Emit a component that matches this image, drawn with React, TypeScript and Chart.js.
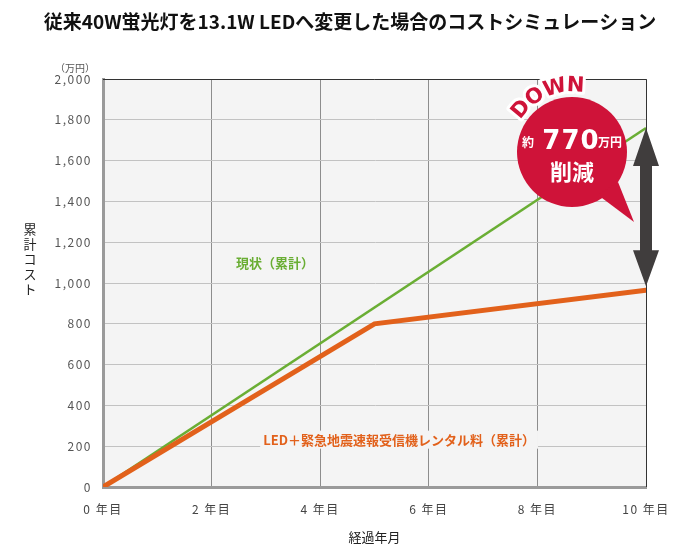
import React, { useEffect, useRef } from "react";
import { Chart, registerables } from "chart.js";

Chart.register(...registerables);

const TITLE = "従来40W蛍光灯を13.1W LEDへ変更した場合のコストシミュレーション";
const greenYears = [0, 10];
const greenCost = [0, 1760];
const ledYears = [0, 5, 10];
const ledCost = [0, 800, 965];
const greenLabel = "現状（累計）";
const ledLabel = "LED＋緊急地震速報受信機レンタル料（累計）";
const yUnit = "（万円）";
const yTitle = "累計コスト";
const xTitle = "経過年月";
const yearSuffix = " 年目";
const savingText = "770";

const FONT = '"Noto Sans CJK JP", "Noto Sans", sans-serif';
const GREEN = "#6aae34";
const ORANGE = "#e2611b";
const RED = "#cf1339";

const extras = {
  id: "extras",
  beforeDraw(chart: any) {
    const { ctx, chartArea: a } = chart;
    ctx.save();
    ctx.fillStyle = "#f4f4f4";
    ctx.fillRect(a.left, a.top, a.right - a.left, a.bottom - a.top);
    ctx.restore();
    (ctx as any).letterSpacing = "1.5px";
  },
  afterDraw(chart: any) {
    const { ctx, chartArea: a, scales } = chart;
    const xs = scales.x, ys = scales.y;
    ctx.save();
    (ctx as any).letterSpacing = "0px";
    // top & right frame
    ctx.strokeStyle = "#333";
    ctx.lineWidth = 1;
    ctx.beginPath();
    ctx.moveTo(a.left, a.top + 0.5);
    ctx.lineTo(a.right + 0.5, a.top + 0.5);
    ctx.lineTo(a.right + 0.5, a.bottom);
    ctx.stroke();

    // labels on plot
    ctx.textBaseline = "middle";
    ctx.font = `bold 13px ${FONT}`;
    ctx.textAlign = "left";
    const gx = xs.getPixelForValue(2.45), gy = ys.getPixelForValue(1100);
    ctx.fillStyle = "#f4f4f4";
    ctx.fillRect(gx - 3, gy - 9, ctx.measureText(greenLabel).width + 6, 18);
    ctx.fillStyle = GREEN;
    ctx.fillText(greenLabel, gx, gy);
    const lx = xs.getPixelForValue(2.95), ly = ys.getPixelForValue(232);
    ctx.fillStyle = "#f4f4f4";
    ctx.fillRect(lx - 3, ly - 9, ctx.measureText(ledLabel).width + 6, 18);
    ctx.fillStyle = ORANGE;
    ctx.fillText(ledLabel, lx, ly);

    // double arrow
    const ax = xs.getPixelForValue(10);
    const y1 = ys.getPixelForValue(greenCost[greenCost.length - 1]);
    const y2 = ys.getPixelForValue(ledCost[ledCost.length - 1]) - 4;
    ctx.fillStyle = "#403d3d";
    ctx.beginPath();
    ctx.moveTo(ax, y1);
    ctx.lineTo(ax + 13, y1 + 38);
    ctx.lineTo(ax + 6, y1 + 38);
    ctx.lineTo(ax + 6, y2 - 36);
    ctx.lineTo(ax + 13, y2 - 36);
    ctx.lineTo(ax, y2);
    ctx.lineTo(ax - 13, y2 - 36);
    ctx.lineTo(ax - 6, y2 - 36);
    ctx.lineTo(ax - 6, y1 + 38);
    ctx.lineTo(ax - 13, y1 + 38);
    ctx.closePath();
    ctx.fill();

    // bubble
    const cx = 572, cy = 152, r = 55;
    ctx.fillStyle = RED;
    ctx.beginPath();
    ctx.arc(cx, cy, r, 0, Math.PI * 2);
    ctx.fill();
    ctx.beginPath();
    ctx.moveTo(598, 195);
    ctx.lineTo(634, 222);
    ctx.lineTo(618, 182);
    ctx.closePath();
    ctx.fill();

    // DOWN
    const letters = ["D", "O", "W", "N"];
    const angs = [-140, -124, -105, -87];
    ctx.font = `bold 21px "DejaVu Sans", sans-serif`;
    ctx.textAlign = "center";
    ctx.textBaseline = "middle";
    ctx.lineJoin = "round";
    letters.forEach((ch, i) => {
      const t = (angs[i] * Math.PI) / 180;
      const px = cx + 67 * Math.cos(t), py = cy + 67 * Math.sin(t);
      ctx.save();
      ctx.translate(px, py);
      ctx.rotate(t + Math.PI / 2);
      ctx.strokeStyle = "#fff";
      ctx.lineWidth = 6;
      ctx.strokeText(ch, 0, 1);
      ctx.restore();
    });
    letters.forEach((ch, i) => {
      const t = (angs[i] * Math.PI) / 180;
      const px = cx + 67 * Math.cos(t), py = cy + 67 * Math.sin(t);
      ctx.save();
      ctx.translate(px, py);
      ctx.rotate(t + Math.PI / 2);
      ctx.fillStyle = RED;
      ctx.fillText(ch, 0, 1);
      ctx.restore();
    });

    // bubble text
    ctx.fillStyle = "#fff";
    ctx.textAlign = "center";
    ctx.font = `bold 12px ${FONT}`;
    ctx.fillText("約", 528, 142);
    ctx.font = `bold 26px "DejaVu Sans", sans-serif`;
    (ctx as any).letterSpacing = "1px";
    ctx.fillText(savingText, 571, 142);
    (ctx as any).letterSpacing = "0px";
    ctx.font = `bold 12px ${FONT}`;
    ctx.fillText("万円", 610, 142);
    ctx.font = `bold 22px ${FONT}`;
    ctx.fillText("削減", cx, 172);

    // title
    ctx.fillStyle = "#111";
    ctx.font = `bold 19px ${FONT}`;
    ctx.fillText(TITLE, 350, 22);

    // unit
    ctx.fillStyle = "#555";
    ctx.font = `10px ${FONT}`;
    ctx.fillText(yUnit, 75, 68);

    // y title vertical
    ctx.fillStyle = "#222";
    ctx.font = `13px ${FONT}`;
    Array.from(yTitle).forEach((ch, i) => {
      ctx.fillText(ch, 30, 229 + i * 15);
    });

    // x title
    ctx.fillText(xTitle, (a.left + a.right) / 2, 537);
    ctx.restore();
  },
};

export default function App() {
  const ref = useRef<HTMLCanvasElement>(null);
  useEffect(() => {
    document.body.style.margin = "0";
    const chart = new Chart(ref.current!, {
      type: "scatter",
      data: {
        datasets: [
          {
            label: ledLabel,
            data: ledYears.map((x, i) => ({ x, y: ledCost[i] })),
            showLine: true,
            borderColor: ORANGE,
            backgroundColor: ORANGE,
            borderWidth: 5,
            pointRadius: 0,
            borderCapStyle: "round",
          },
          {
            label: greenLabel,
            data: greenYears.map((x, i) => ({ x, y: greenCost[i] })),
            showLine: true,
            borderColor: GREEN,
            backgroundColor: GREEN,
            borderWidth: 2.5,
            pointRadius: 0,
          },
        ],
      },
      options: {
        animation: false,
        responsive: false,
        layout: { padding: { top: 79, right: 54, bottom: 0, left: 0 } },
        plugins: { legend: { display: false }, tooltip: { enabled: false }, title: { display: false } },
        scales: {
          x: {
            type: "linear",
            min: 0,
            max: 10,
            afterFit: (s: any) => { s.height = 73; },
            ticks: {
              stepSize: 2,
              padding: 15,
              color: "#444",
              font: { family: FONT, size: 12 },
              callback: (v: any) => `${v}${yearSuffix}`,
            },
            grid: { color: "#8d8d8d", lineWidth: 1, drawTicks: false },
            border: { color: "#9a9a9a", width: 3 },
          },
          y: {
            min: 0,
            max: 2000,
            afterFit: (s: any) => { s.width = 103; },
            ticks: {
              stepSize: 200,
              padding: 11,
              color: "#555",
              font: { family: FONT, size: 12 },
              callback: (v: any) => Number(v).toLocaleString("en-US"),
            },
            grid: { color: "#c2c2c2", lineWidth: 1, drawTicks: false },
            border: { color: "#9a9a9a", width: 3 },
          },
        },
      },
      plugins: [extras],
    } as any);
    return () => chart.destroy();
  }, []);
  return (
    <div style={{ width: 700, height: 560 }}>
      <canvas ref={ref} width={700} height={560} style={{ display: "block" }} />
    </div>
  );
}
